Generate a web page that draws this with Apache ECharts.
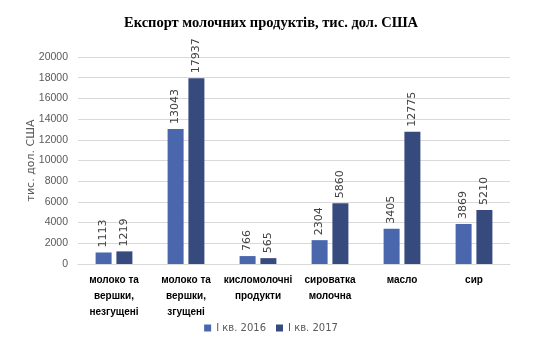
<!DOCTYPE html>
<html>
<head>
<meta charset="utf-8">
<script src="https://cdn.jsdelivr.net/npm/echarts@6/dist/echarts.min.js"></script>
<style>
html, body { margin: 0; padding: 0; background: #fff; }
#chart { width: 542px; height: 360px; }
</style>
</head>
<body>
<div id="chart"></div>
<script>
var categories = ['молоко та\nвершки,\nнезгущені', 'молоко та\nвершки,\nзгущені', 'кисломолочні\nпродукти', 'сироватка\nмолочна', 'масло', 'сир'];
var values2016 = [1113, 13043, 766, 2304, 3405, 3869];
var values2017 = [1219, 17937, 565, 5860, 12775, 5210];
var seriesNames = ['І кв. 2016', 'І кв. 2017'];

var chart = echarts.init(document.getElementById('chart'));

function barLabel() {
    return {
        show: true,
        position: 'top',
        rotate: 90,
        align: 'left',
        verticalAlign: 'middle',
        distance: 5,
        color: '#404040',
        fontSize: 11,
        fontFamily: 'DejaVu Sans'
    };
}

var option = {
    animation: false,
    title: {
        text: 'Експорт молочних продуктів, тис. дол. США',
        left: 'center',
        top: 11,
        textStyle: {
            fontFamily: 'Liberation Serif',
            fontWeight: 'bold',
            fontSize: 14.5,
            color: '#000'
        }
    },
    legend: {
        bottom: 22,
        left: 'center',
        itemWidth: 7,
        itemHeight: 7,
        itemGap: 10,
        icon: 'rect',
        textStyle: { color: '#595959', fontSize: 10, fontFamily: 'DejaVu Sans' },
        data: seriesNames
    },
    grid: { left: 78, right: 32, top: 57, bottom: 96 },
    xAxis: {
        type: 'category',
        data: categories,
        axisLine: { lineStyle: { color: '#d9d9d9' } },
        axisTick: { show: false },
        axisLabel: {
            interval: 0,
            color: '#000',
            fontWeight: 'bold',
            fontSize: 10,
            lineHeight: 16,
            margin: 8,
            fontFamily: 'Liberation Sans'
        }
    },
    yAxis: {
        type: 'value',
        min: 0,
        max: 20000,
        interval: 2000,
        name: 'тис. дол. США',
        nameLocation: 'middle',
        nameGap: 41,
        nameMoveOverlap: false,
        nameTextStyle: { color: '#595959', fontSize: 11, fontFamily: 'DejaVu Sans' },
        axisLine: { show: false },
        axisTick: { show: false },
        axisLabel: {
            color: '#595959',
            fontSize: 10.5,
            margin: 10,
            fontFamily: 'Liberation Sans',
            formatter: function (v) { return String(v); }
        },
        splitLine: { lineStyle: { color: '#d9d9d9' } }
    },
    series: [
        {
            name: seriesNames[0],
            type: 'bar',
            data: values2016,
            barWidth: 16,
            barGap: '30%',
            itemStyle: { color: '#4a66ad' },
            label: barLabel()
        },
        {
            name: seriesNames[1],
            type: 'bar',
            data: values2017,
            barWidth: 16,
            itemStyle: { color: '#364a7e' },
            label: barLabel()
        }
    ]
};

chart.setOption(option);
</script>
</body>
</html>
